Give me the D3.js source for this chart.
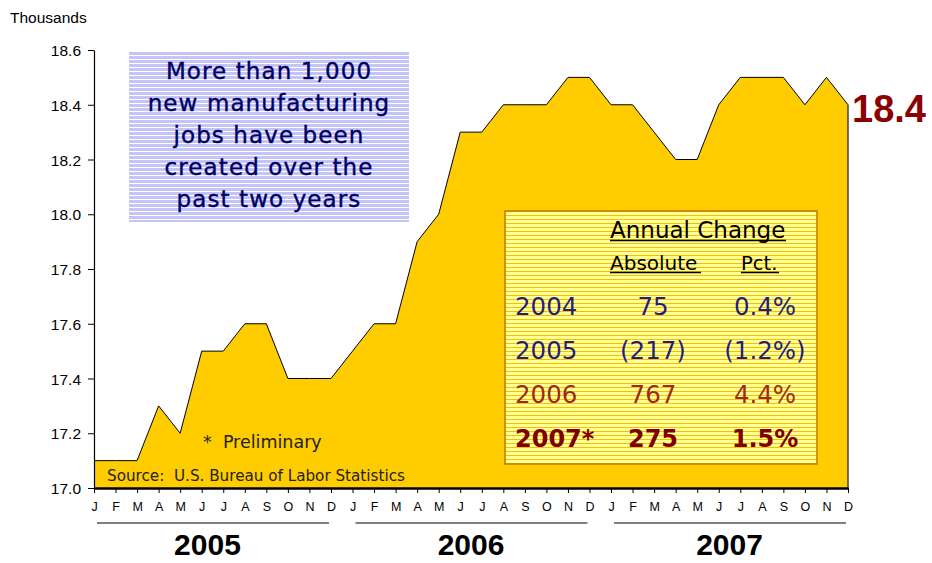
<!DOCTYPE html>
<html><head><meta charset="utf-8">
<script src="https://cdn.jsdelivr.net/npm/d3@7"></script>
<style>body{margin:0;background:#fff}svg{display:block}</style>
</head><body>
<svg id="c" width="932" height="563"></svg>
<script>
const months = ["J","F","M","A","M","J","J","A","S","O","N","D"];
const years = ["2005","2006","2007"];
const values = [
  17.1,17.1,17.1,17.3,17.2,17.5,17.5,17.6,17.6,17.4,17.4,17.4,
  17.5,17.6,17.6,17.9,18.0,18.3,18.3,18.4,18.4,18.4,18.5,18.5,
  18.4,18.4,18.3,18.2,18.2,18.4,18.5,18.5,18.5,18.4,18.5,18.4
];
const yTicks = [17.0,17.2,17.4,17.6,17.8,18.0,18.2,18.4,18.6];
const lastLabel = "18.4";
const noteLines = ["More than 1,000","new manufacturing","jobs have been","created over the","past two years"];
const tableYears = ["2004","2005","2006","2007*"];
const tableAbs = ["75","(217)","767","275"];
const tablePct = ["0.4%","(1.2%)","4.4%","1.5%"];

const svg = d3.select("#c");
const x = d3.scaleLinear().domain([0, values.length-1]).range([94, 848]);
const y = d3.scaleLinear().domain([17.0, 18.6]).range([488, 50]);
const sans = "Liberation Sans, Arial, sans-serif";
const tf = "DejaVu Sans, Verdana, sans-serif";

const defs = svg.append("defs");
const pb = defs.append("pattern").attr("id","pblue").attr("patternUnits","userSpaceOnUse").attr("width",4).attr("height",4);
pb.append("rect").attr("width",4).attr("height",4).attr("fill","#c4c4f6");
pb.append("rect").attr("y",3).attr("width",4).attr("height",1).attr("fill","#ffffff");
const py = defs.append("pattern").attr("id","pyel").attr("patternUnits","userSpaceOnUse").attr("width",4).attr("height",4);
py.append("rect").attr("width",4).attr("height",4).attr("fill","#ffff99");
py.append("rect").attr("y",3).attr("width",4).attr("height",1).attr("fill","#f2c200");

// area
const area = d3.area().x((d,i)=>x(i)).y0(y(17.0)).y1(d=>y(d));
svg.append("path").datum(values).attr("d",area).attr("fill","#ffcc00");
const line = d3.line().x((d,i)=>x(i)).y(d=>y(d));
svg.append("path").datum(values).attr("d",line).attr("fill","none").attr("stroke","#000").attr("stroke-width",1);
svg.append("line").attr("x1",x(values.length-1)).attr("x2",x(values.length-1))
  .attr("y1",y(values[values.length-1])).attr("y2",y(17.0)).attr("stroke","#444").attr("stroke-width",1.5);

// y axis
const ya = svg.append("g").attr("transform","translate(94,0)")
  .call(d3.axisLeft(y).tickValues(yTicks).tickFormat(d3.format(".1f")).tickSize(6).tickSizeOuter(0));
ya.select(".domain").attr("stroke","#000").attr("stroke-width",1.2);
ya.selectAll(".tick line").attr("stroke","#000");
ya.selectAll(".tick text").attr("font-family",sans).attr("font-size",15.5).attr("fill","#000").attr("x",-13).attr("dy","0.36em");

svg.append("text").attr("x",10).attr("y",23).attr("font-family",sans)
  .attr("font-size",15.5).attr("fill","#000").text("Thousands");

// x axis
const idx = d3.range(values.length);
const xa = svg.append("g").attr("transform",`translate(0,${y(17.0)})`)
  .call(d3.axisBottom(x).tickValues(idx).tickFormat(i=>months[i%12]).tickSize(5).tickSizeOuter(0));
xa.select(".domain").attr("stroke","#000").attr("stroke-width",2.5);
xa.selectAll(".tick line").attr("stroke","#000");
xa.selectAll(".tick text").attr("font-family",sans).attr("font-size",12.5).attr("fill","#000").attr("y",14);

// year lines and labels
years.forEach((yr,k)=>{
  const x0 = x(k*12)+3, x1 = x(k*12+11)-2;
  svg.append("line").attr("x1",x0).attr("x2",x1).attr("y1",523).attr("y2",523).attr("stroke","#555").attr("stroke-width",1.3);
  svg.append("text").attr("x",(x(k*12)+x(k*12+11))/2 - (k===0?5:0)).attr("y",555).attr("text-anchor","middle")
    .attr("font-family",sans).attr("font-weight","bold").attr("font-size",30).attr("fill","#000").text(yr);
});

// last value label
svg.append("text").attr("x",852).attr("y",122).attr("font-family",sans)
  .attr("font-weight","bold").attr("font-size",38).attr("fill","#8b0000").text(lastLabel);

// blue note box
svg.append("rect").attr("x",129).attr("y",52).attr("width",280).attr("height",170).attr("fill","url(#pblue)");
noteLines.forEach((t,i)=>{
  svg.append("text").attr("x",269).attr("y",79+i*32).attr("text-anchor","middle")
    .attr("font-family",tf).attr("font-size",23).attr("letter-spacing",1.1)
    .attr("fill","#000066").attr("stroke","#000066").attr("stroke-width",0.4).text(t);
});

// notes
svg.append("text").attr("x",203).attr("y",448).attr("font-family",tf)
  .attr("font-size",17.5).attr("fill","#222").attr("xml:space","preserve").text("*  Preliminary");
svg.append("text").attr("x",107).attr("y",481).attr("font-family",tf)
  .attr("font-size",15.2).attr("fill","#222").attr("xml:space","preserve").text("Source:  U.S. Bureau of Labor Statistics");

// table box
svg.append("rect").attr("x",505).attr("y",211).attr("width",312).attr("height",253).attr("fill","url(#pyel)")
  .attr("stroke","#c07800").attr("stroke-width",1.5);
function ut(t, xx, yy, fs, w){
  svg.append("text").attr("x",xx).attr("y",yy).attr("font-family",tf).attr("font-size",fs).attr("fill","#000").text(t);
  svg.append("line").attr("x1",xx).attr("x2",xx+w).attr("y1",yy+2.5).attr("y2",yy+2.5).attr("stroke","#000").attr("stroke-width",1.5);
}
ut("Annual Change",610,238,23,176);
ut("Absolute",610,270,20,91);
ut("Pct.",741,270,19.5,38);
const rowColors = ["#1f1f80","#1f1f80","#9b2a1a","#800000"];
tableYears.forEach((t,i)=>{
  const yy = 315 + i*44;
  const bold = i===3 ? "bold" : "normal";
  const fs = i===3 ? 24 : 24.5;
  svg.append("text").attr("x",515).attr("y",yy).attr("font-family",tf).attr("font-size",fs).attr("font-weight",bold).attr("fill",rowColors[i]).text(t);
  svg.append("text").attr("x",653).attr("y",yy).attr("text-anchor","middle").attr("font-family",tf).attr("font-size",fs).attr("font-weight",bold).attr("fill",rowColors[i]).text(tableAbs[i]);
  svg.append("text").attr("x",765).attr("y",yy).attr("text-anchor","middle").attr("font-family",tf).attr("font-size",fs).attr("font-weight",bold).attr("fill",rowColors[i]).text(tablePct[i]);
});
</script>
</body></html>
